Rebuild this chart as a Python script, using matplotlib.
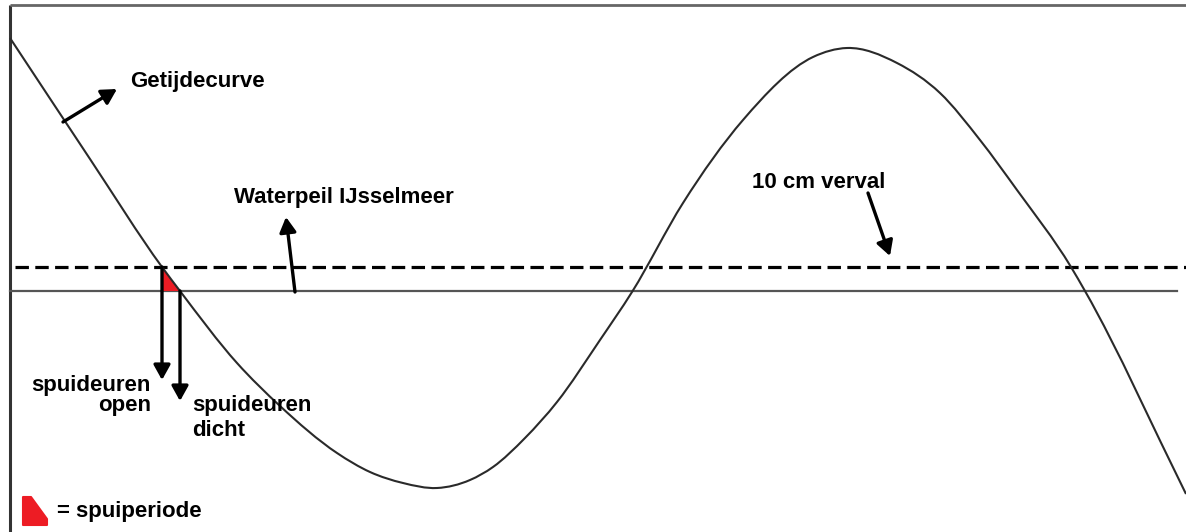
import matplotlib
matplotlib.use("Agg")
import matplotlib.pyplot as plt
from matplotlib.patches import Polygon, PathPatch
from matplotlib.path import Path

# ---- data (schematic units: horizontal = time, vertical = level, screen-like, y down) ----
curve_x = [10, 90, 162, 180, 237, 280, 337, 370, 403, 437, 470, 493, 525, 557, 600,
           632, 683, 743, 813, 847, 897, 940, 980, 1017, 1071, 1085, 1186]
curve_y = [38, 159, 267, 291, 363, 406, 453, 472, 483, 488, 480, 467, 438, 402, 340,
           292, 203, 120, 57, 48, 63, 93, 140, 190, 267, 291, 494]

ijsselmeer_level = 291      # Waterpeil IJsselmeer (solid line)
verval_level = 267          # 10 cm verval (dashed line)
open_x = 162                # spuideuren open
dicht_x = 180               # spuideuren dicht

labels = {
    "curve": "Getijdecurve",
    "meer": "Waterpeil IJsselmeer",
    "verval": "10 cm verval",
    "spui": "spuideuren",
    "open": "open",
    "dicht": "dicht",
    "legend": "= spuiperiode",
}

W, H = 1186, 532
fig = plt.figure(figsize=(W / 100, H / 100), dpi=100)
ax = fig.add_axes([0, 0, 1, 1])
ax.set_xlim(0, W)
ax.set_ylim(H, 0)
ax.axis("off")

FONT = ["Liberation Sans", "DejaVu Sans"]
FS = 16
RED = "#ED1C24"

# frame (left and top border)
ax.plot([10, 10], [5, H], color="#333333", lw=2.2, solid_capstyle="butt")
ax.plot([10, W], [5, 5], color="#666666", lw=2.0, solid_capstyle="butt")

# horizontal lines
ax.plot([10, 1177], [ijsselmeer_level] * 2, color="#555555", lw=1.6)
ax.plot([15, W], [verval_level] * 2, color="black", lw=2.3, ls=(0, (4.2, 2.0)))

# spui-period triangle
tri = Polygon([(open_x, verval_level), (dicht_x, ijsselmeer_level), (open_x, ijsselmeer_level)],
              closed=True, facecolor=RED, edgecolor="none", zorder=2)
ax.add_patch(tri)

# tide curve: smooth cubic Bezier path through the read points (Hermite tangents)
n = len(curve_x)
h = [curve_x[i + 1] - curve_x[i] for i in range(n - 1)]
d = [(curve_y[i + 1] - curve_y[i]) / h[i] for i in range(n - 1)]
m = [d[0]]
for i in range(1, n - 1):
    m.append((h[i - 1] * d[i] + h[i] * d[i - 1]) / (h[i - 1] + h[i]))
m.append(d[-1])
verts = [(curve_x[0], curve_y[0])]
codes = [Path.MOVETO]
for i in range(n - 1):
    verts += [(curve_x[i] + h[i] / 3, curve_y[i] + m[i] * h[i] / 3),
              (curve_x[i + 1] - h[i] / 3, curve_y[i + 1] - m[i + 1] * h[i] / 3),
              (curve_x[i + 1], curve_y[i + 1])]
    codes += [Path.CURVE4] * 3
ax.add_patch(PathPatch(Path(verts, codes), facecolor="none", edgecolor="#2a2a2a",
                       lw=1.5, zorder=3))

def arrow(tail, tip):
    ax.annotate("", xy=tip, xytext=tail,
                arrowprops=dict(arrowstyle="-|>,head_length=0.45,head_width=0.25",
                                mutation_scale=20, lw=2.4, color="black",
                                shrinkA=0, shrinkB=0), zorder=4)

arrow((63, 122), (117, 89))
arrow((295, 292), (286, 217))
arrow((868, 193), (890, 256))
arrow((open_x, verval_level), (open_x, 380))
arrow((dicht_x, ijsselmeer_level), (dicht_x, 401))

tk = dict(fontsize=FS, fontweight="bold", family=FONT, color="black")
ax.text(130, 81, labels["curve"], ha="left", va="center", **tk)
ax.text(234, 197, labels["meer"], ha="left", va="center", **tk)
ax.text(752, 182, labels["verval"], ha="left", va="center", **tk)
ax.text(151, 386, labels["spui"], ha="right", va="center", **tk)
ax.text(151, 406, labels["open"], ha="right", va="center", **tk)
ax.text(192, 405, labels["spui"], ha="left", va="center", **tk)
ax.text(192, 430, labels["dicht"], ha="left", va="center", **tk)

# legend marker
leg = Polygon([(23, 497), (31, 497), (47, 519), (47, 525), (23, 525)],
              closed=True, facecolor=RED, edgecolor=RED, lw=1.5, joinstyle="round")
ax.add_patch(leg)
ax.text(57, 512, labels["legend"], ha="left", va="center", **tk)

fig.savefig("out.png", dpi=100)
